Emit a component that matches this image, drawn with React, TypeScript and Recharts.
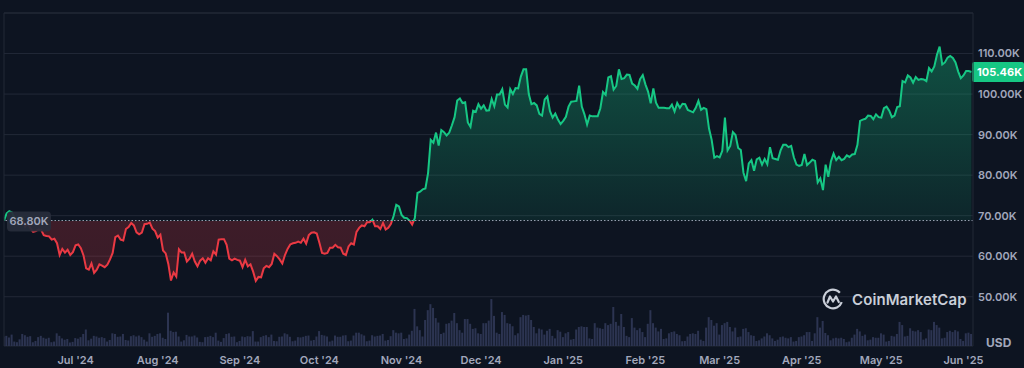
import React from 'react';
import { ComposedChart, Area, Bar, XAxis, YAxis, CartesianGrid, ReferenceLine } from 'recharts';

// Daily closing prices (thousand USD), 3 Jun 2024 close .. 3 Jun 2025 close
const closeJun24 = [68.80, 70.6, 71.1, 70.8, 69.3, 69.3, 69.6, 69.5, 67.3, 68.2, 66.8, 66.0, 66.2, 66.6, 66.5, 65.2, 65.0, 64.9, 64.1, 64.3, 63.2, 60.3, 61.8, 60.9, 61.6, 60.3, 61.0, 62.7];
const closeJul24 = [62.9, 62.0, 60.2, 57.0, 56.7, 58.2, 55.9, 56.7, 58.0, 57.7, 57.3, 57.9, 59.2, 60.8, 64.7, 65.1, 64.1, 63.9, 66.7, 67.2, 68.2, 67.6, 65.9, 65.4, 65.8, 67.9, 68.0, 68.3, 66.8, 66.2, 64.6];
const closeAug24 = [65.3, 61.4, 60.7, 58.1, 54.0, 56.0, 55.0, 61.7, 60.9, 60.9, 58.7, 59.4, 60.6, 58.7, 57.5, 58.9, 59.5, 58.4, 59.5, 59.0, 61.2, 60.4, 64.1, 64.2, 64.2, 62.8, 59.4, 59.0, 59.4, 59.1, 58.9];
const closeSep24 = [57.3, 59.1, 57.5, 58.0, 56.2, 53.9, 54.9, 54.8, 57.0, 57.6, 57.3, 58.1, 60.6, 60.0, 59.2, 58.2, 60.3, 61.8, 62.9, 63.2, 63.3, 63.6, 63.3, 64.3, 63.1, 65.2, 65.8, 65.9, 65.6, 63.3];
const closeOct24 = [60.8, 60.6, 60.8, 62.1, 62.1, 62.8, 62.2, 62.1, 60.6, 60.3, 62.4, 63.2, 62.9, 66.0, 67.0, 67.6, 67.4, 68.4, 68.4, 69.0, 67.4, 67.4, 66.7, 68.2, 66.6, 67.0, 68.0, 69.9, 72.7, 72.3, 70.2];
const closeNov24 = [69.5, 69.4, 68.8, 67.8, 69.4, 75.6, 75.9, 76.5, 76.7, 80.5, 88.7, 88.0, 90.5, 87.3, 91.1, 90.6, 89.8, 90.5, 92.3, 94.3, 98.4, 98.9, 97.8, 98.0, 93.0, 91.9, 95.9, 95.6, 97.5, 96.4];
const closeDec24 = [97.2, 95.9, 96.0, 98.8, 97.0, 99.9, 99.9, 101.2, 97.4, 96.7, 101.2, 100.0, 101.5, 101.4, 104.3, 106.1, 106.1, 100.0, 97.5, 97.8, 97.2, 95.1, 94.7, 98.7, 99.4, 95.8, 94.2, 95.2, 93.7, 92.6, 93.4];
const closeJan25 = [94.4, 96.9, 98.1, 98.2, 98.3, 102.1, 96.9, 95.0, 92.5, 94.7, 94.5, 94.5, 94.5, 96.5, 100.5, 99.8, 104.1, 104.4, 101.1, 102.0, 106.1, 103.7, 103.9, 104.8, 104.7, 102.6, 102.1, 101.3, 103.7, 104.7, 102.4];
const closeFeb25 = [100.6, 97.7, 101.4, 97.9, 96.6, 96.6, 96.6, 96.5, 96.5, 97.4, 95.7, 97.8, 96.6, 97.6, 97.5, 96.1, 95.8, 95.5, 96.6, 98.3, 96.1, 96.6, 96.3, 91.5, 88.7, 84.3, 84.7, 84.4];
const closeMar25 = [86.0, 94.2, 86.1, 87.2, 90.6, 89.9, 86.7, 86.2, 80.6, 78.5, 82.9, 83.7, 81.1, 83.9, 84.3, 82.6, 84.0, 82.7, 86.9, 84.2, 84.0, 83.8, 86.1, 87.5, 87.5, 86.9, 87.2, 84.4, 82.6, 82.3, 82.5];
const closeApr25 = [85.2, 82.5, 83.1, 83.8, 83.5, 78.2, 79.2, 76.3, 82.6, 79.6, 83.4, 85.3, 83.7, 84.5, 83.7, 84.0, 84.9, 84.5, 85.1, 85.2, 87.5, 93.4, 93.7, 93.9, 94.7, 94.6, 93.8, 95.0, 94.3, 94.2];
const closeMay25 = [96.5, 96.9, 95.9, 94.3, 94.7, 96.8, 97.0, 103.2, 102.9, 104.6, 104.1, 102.8, 104.2, 103.5, 103.7, 103.6, 103.2, 106.4, 105.6, 106.8, 109.7, 111.7, 107.3, 107.8, 109.0, 109.4, 108.9, 107.8, 105.6, 103.9, 104.6];
const closeJun25 = [105.7, 105.7, 105.46];

// Daily volume (billion USD), 4 Jun 2024 .. 4 Jun 2025
const volJun24 = [30, 32, 27, 36, 14, 12, 21, 38, 34, 29, 31, 12, 16, 28, 32, 26, 23, 26, 12, 14, 40, 32, 24, 20, 22, 11, 13];
const volJul24 = [25, 23, 28, 38, 52, 18, 23, 32, 30, 26, 28, 25, 14, 19, 40, 38, 29, 30, 38, 19, 17, 31, 34, 30, 33, 28, 20, 14, 40, 29, 32];
const volAug24 = [38, 40, 26, 22, 105, 48, 44, 45, 30, 14, 18, 35, 30, 30, 33, 27, 13, 12, 28, 29, 32, 28, 42, 17, 13, 25, 38, 40, 29, 30, 12];
const volSep24 = [16, 30, 28, 31, 30, 47, 14, 14, 28, 32, 34, 28, 36, 16, 15, 29, 30, 40, 37, 29, 15, 17, 28, 27, 29, 32, 33, 17, 19, 30];
const volOct24 = [47, 35, 33, 30, 14, 17, 33, 29, 29, 33, 34, 15, 17, 33, 42, 42, 37, 33, 15, 17, 34, 30, 32, 33, 38, 17, 19, 31, 50, 42, 40];
const volNov24 = [42, 22, 24, 36, 48, 117, 62, 50, 30, 82, 113, 132, 120, 88, 74, 38, 42, 70, 72, 80, 104, 72, 50, 42, 85, 85, 70, 54, 56, 40];
const volDec24 = [38, 72, 72, 80, 148, 95, 42, 38, 107, 98, 72, 70, 62, 34, 40, 91, 98, 96, 98, 82, 60, 40, 55, 52, 36, 48, 54, 32, 24, 50, 45];
const volJan25 = [28, 40, 44, 20, 22, 52, 60, 62, 60, 60, 24, 22, 72, 58, 56, 54, 72, 66, 70, 123, 76, 64, 101, 60, 32, 28, 88, 58, 50, 56, 44];
const volFeb25 = [28, 70, 113, 72, 58, 46, 54, 22, 24, 40, 44, 46, 38, 34, 15, 16, 30, 38, 40, 38, 48, 20, 16, 58, 91, 82, 64, 72];
const volMar25 = [36, 66, 72, 76, 60, 46, 58, 28, 30, 54, 56, 44, 34, 32, 16, 18, 24, 30, 40, 34, 24, 16, 20, 28, 30, 26, 24, 28, 14, 16, 28];
const volApr25 = [30, 34, 44, 44, 16, 40, 91, 58, 79, 41, 34, 18, 24, 26, 24, 26, 22, 12, 14, 26, 36, 54, 46, 32, 36, 18, 20, 28, 26, 26];
const volMay25 = [40, 36, 14, 16, 32, 30, 38, 76, 66, 30, 32, 56, 48, 46, 50, 44, 20, 24, 52, 50, 76, 66, 58, 24, 26, 44, 48, 44, 50, 46, 22];
const volJun25 = [16, 40, 42, 38];

// Month ticks: days since 1 Jul 2024
const monthTicks = [0, 31, 62, 92, 123, 153, 184, 215, 243, 274, 304, 335];
const monthLabels = ["Jul '24", "Aug '24", "Sep '24", "Oct '24", "Nov '24", "Dec '24", "Jan '25", "Feb '25", "Mar '25", "Apr '25", "May '25", "Jun '25"];
const priceTicks = [50, 60, 70, 80, 90, 100, 110];

const FIRST_DAY = -27;

const prices: number[] = [
  ...closeJun24, ...closeJul24, ...closeAug24, ...closeSep24, ...closeOct24, ...closeNov24,
  ...closeDec24, ...closeJan25, ...closeFeb25, ...closeMar25, ...closeApr25, ...closeMay25, ...closeJun25,
];
const volumes: number[] = [
  ...volJun24, ...volJul24, ...volAug24, ...volSep24, ...volOct24, ...volNov24,
  ...volDec24, ...volJan25, ...volFeb25, ...volMar25, ...volApr25, ...volMay25, ...volJun25,
];

const data = prices.map((price, i) => ({ day: FIRST_DAY + i, price, volume: volumes[i] }));

const BASE = prices[0];
const LAST = prices[prices.length - 1];
const maxP = Math.max(...prices);
const minP = Math.min(...prices);
const split = (maxP - BASE) / (maxP - minP);

const GREEN = '#16c784';
const RED = '#ea3943';
const GRID = '#222937';
const TICK = '#a1a7bb';
const FONT = 'Inter, "Noto Sans", sans-serif';

const BaseLabel = (props: any) => {
  const vb = props.viewBox || {};
  const x = vb.x + 3;
  const y = vb.y;
  return (
    <g>
      <rect x={x} y={y - 9} width={44} height={20} rx={4} fill="#272d3a" fillOpacity={0.94} />
      <text x={x + 22} y={y + 1} dy="0.35em" textAnchor="middle" fill={TICK} fontSize={11} fontWeight={600} fontFamily={FONT}>
        {BASE.toFixed(2)}K
      </text>
    </g>
  );
};

const PriceLabel = (props: any) => {
  const vb = props.viewBox || {};
  const x = vb.x + vb.width - 1;
  const y = vb.y;
  return (
    <g>
      <rect x={x} y={y - 10} width={52} height={20} rx={2} fill={GREEN} />
      <text x={x + 5} y={y} dy="0.35em" textAnchor="start" fill="#ffffff" fontSize={11} fontWeight={700} fontFamily={FONT}>
        {LAST.toFixed(2)}K
      </text>
    </g>
  );
};

const Logo = () => (
  <svg width="22" height="22" viewBox="0 0 22 22">
    <circle cx="11" cy="11" r="9.3" fill="none" stroke="#c9ced8" strokeWidth="2.2" strokeDasharray="48 10" transform="rotate(20 11 11)" />
    <path d="M5.5 14.5 L8 8.5 L11 13.5 L14 8.5 L16.8 14" fill="none" stroke="#c9ced8" strokeWidth="2.2" strokeLinejoin="round" strokeLinecap="round" />
  </svg>
);

export default function App() {
  return (
    <div style={{ position: 'absolute', left: 0, top: 0, width: 1024, height: 368, background: '#0d1421', overflow: 'hidden', fontFamily: FONT }}>
      <ComposedChart width={1024} height={368} data={data} margin={{ top: 13, right: 0, bottom: 0, left: 4 }}>
        <defs>
          <linearGradient id="strokeSplit" x1="0" y1="0" x2="0" y2="1">
            <stop offset={0} stopColor={GREEN} />
            <stop offset={split} stopColor={GREEN} />
            <stop offset={split} stopColor={RED} />
            <stop offset={1} stopColor={RED} />
          </linearGradient>
          <linearGradient id="fillSplit" x1="0" y1="0" x2="0" y2="1">
            <stop offset={0} stopColor={GREEN} stopOpacity={0.34} />
            <stop offset={split} stopColor={GREEN} stopOpacity={0.1} />
            <stop offset={split} stopColor={RED} stopOpacity={0.22} />
            <stop offset={1} stopColor={RED} stopOpacity={0.2} />
          </linearGradient>
        </defs>
        <CartesianGrid yAxisId="price" xAxisId="x" vertical={false} stroke={GRID} strokeWidth={1} />
        <XAxis
          xAxisId="x"
          dataKey="day"
          type="number"
          domain={[-27, 338.6]}
          allowDataOverflow
          ticks={monthTicks}
          interval={0}
          tickFormatter={(v: number) => monthLabels[monthTicks.indexOf(v)] ?? ''}
          axisLine={false}
          tickLine={false}
          tickSize={6}
          tickMargin={4}
          height={22}
          tick={{ fill: TICK, fontSize: 11, fontWeight: 600, fontFamily: FONT }}
        />
        <YAxis
          yAxisId="price"
          orientation="right"
          type="number"
          domain={[37.85, 120]}
          allowDataOverflow
          ticks={priceTicks}
          interval={0}
          tickFormatter={(v: number) => `${v.toFixed(2)}K`}
          axisLine={{ stroke: GRID }}
          tickLine={false}
          tickSize={5}
          tickMargin={0}
          width={51}
          tick={{ fill: TICK, fontSize: 11, fontWeight: 600, fontFamily: FONT, textAnchor: 'start' }}
        />
        <YAxis yAxisId="vol" hide type="number" domain={[0, 1050]} allowDataOverflow />
        <ReferenceLine yAxisId="price" xAxisId="x" y={120} stroke={GRID} strokeWidth={1} />
        <ReferenceLine yAxisId="price" xAxisId="x" x={-27} stroke={GRID} strokeWidth={1} />
        <Bar yAxisId="vol" xAxisId="x" dataKey="volume" fill="#2c3451" barSize={2} isAnimationActive={false} />
        <ReferenceLine
          yAxisId="price"
          xAxisId="x"
          y={BASE}
          stroke="#9aa1b2"
          strokeWidth={1}
          strokeDasharray="1.5 2"
        />
        <Area
          yAxisId="price"
          xAxisId="x"
          dataKey="price"
          type="linear"
          baseValue={BASE}
          stroke="url(#strokeSplit)"
          strokeWidth={2}
          fill="url(#fillSplit)"
          fillOpacity={1}
          dot={false}
          activeDot={false}
          isAnimationActive={false}
        />
        <ReferenceLine yAxisId="price" xAxisId="x" y={BASE} stroke="none" label={(p: any) => <BaseLabel {...p} />} />
        <ReferenceLine yAxisId="price" xAxisId="x" y={LAST} stroke="none" label={(p: any) => <PriceLabel {...p} />} />
      </ComposedChart>
      <div style={{ position: 'absolute', left: 822, top: 288, display: 'flex', alignItems: 'center', gap: 8, pointerEvents: 'none' }}>
        <Logo />
        <span style={{ color: '#c9ced8', fontSize: 15, fontWeight: 600, fontFamily: FONT, letterSpacing: 0.1 }}>CoinMarketCap</span>
      </div>
      <div style={{ position: 'absolute', left: 986, top: 335, color: TICK, fontSize: 12, fontWeight: 700, fontFamily: FONT }}>USD</div>
    </div>
  );
}
